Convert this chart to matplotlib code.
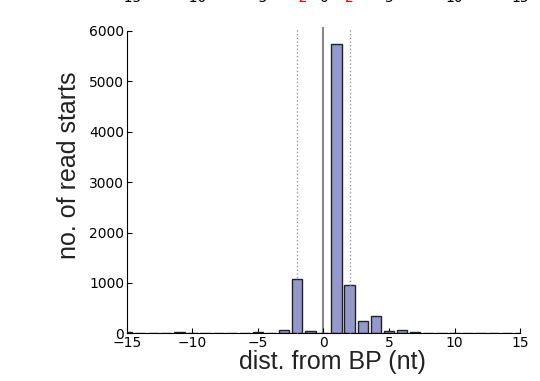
import matplotlib
matplotlib.use("Agg")
import matplotlib.pyplot as plt
import matplotlib.transforms as mtransforms

# distance from breakpoint (nt) and read-start counts
positions = list(range(-15, 16))
counts = [20, 15, 5, 5, 20, 10, 5, 5, 5, 5, 35, 10, 65, 1080, 45, 10,
          5730, 950, 245, 340, 50, 65, 25, 10, 10, 5, 5, 5, 5, 5, 5]

# tick labels of the panel above (only their bottoms show)
top_ticks = [-15, -10, -5, -2, 0, 2, 5, 10, 15]
top_colors = ["black", "black", "black", "red", "black", "red", "black", "black", "black"]

fig = plt.figure(figsize=(5.4, 3.81), dpi=100)
ax = fig.add_axes([0.235, 0.125, 0.728, 0.794])

ax.bar(positions, counts, width=0.8, color="#9498cc", edgecolor="#222222",
       linewidth=1.0, zorder=2)
ax.axvline(0, ymax=1.01, color="#888888", linewidth=1.5, zorder=1, clip_on=False)
for x in (-2, 2):
    ax.axvline(x, ymax=1.01, color="#999999", linestyle=":", linewidth=1.0,
               zorder=3, clip_on=False)

ax.set_xlim(-15, 15)
ax.set_ylim(0, 6000)
ax.set_xticks([-15, -10, -5, 0, 5, 10, 15])
ax.set_yticks(range(0, 6001, 1000))
ax.spines["top"].set_visible(False)
ax.spines["right"].set_visible(False)
ax.tick_params(direction="in", top=False, right=False, labelsize=10, pad=2)

lab_font = dict(family="Liberation Sans", fontsize=18, color="#222222")
ax.set_xlabel("dist. from BP (nt)", labelpad=0, x=0.522, **lab_font)
ax.set_ylabel("no. of read starts", labelpad=6, y=0.556, **lab_font)

trans = mtransforms.blended_transform_factory(ax.transData, fig.transFigure)
for t, c in zip(top_ticks, top_colors):
    ax.text(t, 1 - 2.5 / 381, "\u2212%d" % -t if t < 0 else "%d" % t,
            transform=trans, ha="center", va="baseline", fontsize=10,
            color=c, clip_on=False)

fig.savefig("out.png", dpi=100)
